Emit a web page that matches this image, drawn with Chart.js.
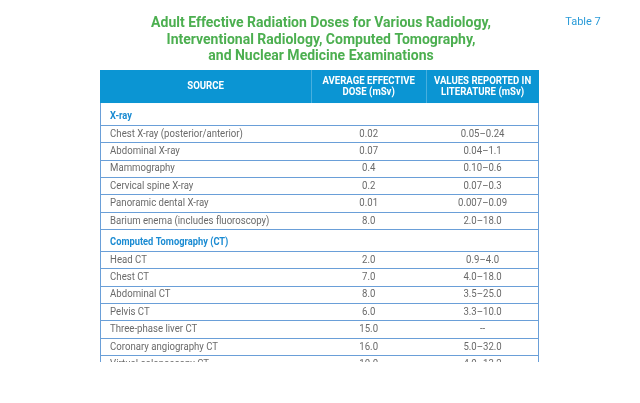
<!DOCTYPE html>
<html>
<head>
<meta charset="utf-8">
<script src="https://cdn.jsdelivr.net/npm/chart.js@4.4.0/dist/chart.umd.min.js"></script>
<style>
  html, body { margin: 0; padding: 0; background: #fff; }
  #wrap { width: 640px; height: 403px; position: relative; }
</style>
</head>
<body>
<div id="wrap"><canvas id="doseTable"></canvas></div>
<script>
// Table content
const titleLines = [
    'Adult Effective Radiation Doses for Various Radiology,',
    'Interventional Radiology, Computed Tomography,',
    'and Nuclear Medicine Examinations'
];
const tableTag = 'Table 7';
const columnHeaders = [
    ['SOURCE'],
    ['AVERAGE EFFECTIVE', 'DOSE (mSv)'],
    ['VALUES REPORTED IN', 'LITERATURE (mSv)']
];
const sections = ['X-ray', 'Computed Tomography (CT)'];

const xraySources = [
    'Chest X-ray (posterior/anterior)',
    'Abdominal X-ray',
    'Mammography',
    'Cervical spine X-ray',
    'Panoramic dental X-ray',
    'Barium enema (includes fluoroscopy)'
];
const xrayAverage = ['0.02', '0.07', '0.4', '0.2', '0.01', '8.0'];
const xrayLiterature = ['0.05\u20130.24', '0.04\u20131.1', '0.10\u20130.6', '0.07\u20130.3', '0.007\u20130.09', '2.0\u201318.0'];

const ctSources = [
    'Head CT',
    'Chest CT',
    'Abdominal CT',
    'Pelvis CT',
    'Three-phase liver CT',
    'Coronary angiography CT',
    'Virtual colonoscopy CT'
];
const ctAverage = ['2.0', '7.0', '8.0', '6.0', '15.0', '16.0', '10.0'];
const ctLiterature = ['0.9\u20134.0', '4.0\u201318.0', '3.5\u201325.0', '3.3\u201310.0', '--', '5.0\u201332.0', '4.0\u201313.2'];

// Layout (row heights in "row units", column edges in % of table width)
const HEADER_UNITS = 1.9;
const SECTION_UNITS = 1.25;
const ROW_UNITS = 1;
const VISIBLE_UNITS = 16.8;
const COL_EDGES = [0, 48.1, 74.3, 100];
const SOURCE_X = 2.3;

const HEADER_BG = '#0b95d3';
const LINE_COLOR = '#6a9fd8';
const SECTION_COLOR = '#1a8bd2';
const TEXT_COLOR = '#6a6a6a';
const TITLE_COLOR = '#4caf50';
const FONT = 'Roboto, "Liberation Sans", sans-serif';

// Build row list from the named arrays
const rows = [];
function addSection(name, sources, avg, lit) {
    rows.push({ type: 'section', label: name });
    sources.forEach((s, i) => rows.push({ type: 'data', label: s, avg: avg[i], lit: lit[i] }));
}
addSection(sections[0], xraySources, xrayAverage, xrayLiterature);
addSection(sections[1], ctSources, ctAverage, ctLiterature);

// Row boundaries on the y scale
const rowBounds = [HEADER_UNITS];
rows.forEach(r => {
    const prev = rowBounds[rowBounds.length - 1];
    rowBounds.push(prev + (r.type === 'section' ? SECTION_UNITS : ROW_UNITS));
});

const colMid = i => (COL_EDGES[i] + COL_EDGES[i + 1]) / 2;

// One dataset per text column; each cell is a point placed by the scales
const headerCells = columnHeaders.map((h, i) => ({ x: colMid(i), y: HEADER_UNITS / 2 }));
const sectionCells = [];
const sourceCells = [], avgCells = [], litCells = [];
const sectionText = [], sourceText = [], avgText = [], litText = [];
rows.forEach((r, i) => {
    const top = rowBounds[i], bottom = rowBounds[i + 1];
    if (r.type === 'section') {
        sectionCells.push({ x: SOURCE_X, y: bottom - 0.45 });
        sectionText.push(r.label);
    } else {
        const mid = (top + bottom) / 2 + 0.04;
        sourceCells.push({ x: SOURCE_X, y: mid });
        avgCells.push({ x: colMid(1), y: mid });
        litCells.push({ x: colMid(2), y: mid });
        sourceText.push(r.label);
        avgText.push(r.avg);
        litText.push(r.lit);
    }
});

function squeezedText(ctx, text, x, y, align, squeeze) {
    ctx.save();
    ctx.translate(x, y);
    ctx.scale(squeeze, 1);
    ctx.textAlign = align;
    ctx.fillText(text, 0, 0);
    ctx.restore();
}

const tablePlugin = {
    id: 'tableCells',
    beforeDatasetsDraw(chart) {
        const { ctx, chartArea: a, scales: { x, y } } = chart;
        ctx.save();
        // header band
        const hTop = y.getPixelForValue(0);
        const hBot = y.getPixelForValue(HEADER_UNITS);
        ctx.fillStyle = HEADER_BG;
        ctx.fillRect(a.left, hTop, a.right - a.left, hBot - hTop);
        // faint dividers inside header
        ctx.strokeStyle = 'rgba(255,255,255,0.25)';
        ctx.lineWidth = 1;
        [1, 2].forEach(i => {
            const px = Math.round(x.getPixelForValue(COL_EDGES[i])) + 0.5;
            ctx.beginPath();
            ctx.moveTo(px, hTop);
            ctx.lineTo(px, hBot);
            ctx.stroke();
        });
        // horizontal row rules
        ctx.strokeStyle = LINE_COLOR;
        rowBounds.forEach((b, i) => {
            if (i === 0 || b >= VISIBLE_UNITS) return;
            const py = Math.round(y.getPixelForValue(b)) + 0.5;
            ctx.beginPath();
            ctx.moveTo(a.left, py);
            ctx.lineTo(a.right, py);
            ctx.stroke();
        });
        // side borders
        [a.left + 0.5, a.right - 0.5].forEach(px => {
            ctx.beginPath();
            ctx.moveTo(px, hBot);
            ctx.lineTo(px, a.bottom);
            ctx.stroke();
        });
        ctx.restore();
    },
    afterDatasetsDraw(chart) {
        const { ctx, chartArea: a } = chart;
        ctx.save();
        ctx.textBaseline = 'middle';

        // title and tag above the table
        ctx.fillStyle = TITLE_COLOR;
        ctx.font = 'bold 14px ' + FONT;
        titleLines.forEach((t, i) => squeezedText(ctx, t, 321, 23.5 + i * 16.5, 'center', 1.0));
        ctx.fillStyle = '#2a9bd8';
        ctx.font = '11px ' + FONT;
        squeezedText(ctx, tableTag, 583, 22, 'center', 1.0);

        ctx.beginPath();
        ctx.rect(a.left, a.top, a.right - a.left, a.bottom - a.top);
        ctx.clip();

        // header labels
        ctx.fillStyle = '#ffffff';
        ctx.font = 'bold 10px ' + FONT;
        chart.getDatasetMeta(0).data.forEach((pt, i) => {
            const lines = columnHeaders[i];
            lines.forEach((l, j) => {
                const dy = (j - (lines.length - 1) / 2) * 11;
                squeezedText(ctx, l, pt.x, pt.y + dy, 'center', 0.96);
            });
        });

        // section labels
        ctx.fillStyle = SECTION_COLOR;
        ctx.font = 'bold 10px ' + FONT;
        chart.getDatasetMeta(1).data.forEach((pt, i) => squeezedText(ctx, sectionText[i], pt.x, pt.y, 'left', 0.93));

        // body cells
        ctx.fillStyle = TEXT_COLOR;
        ctx.font = '10px ' + FONT;
        chart.getDatasetMeta(2).data.forEach((pt, i) => squeezedText(ctx, sourceText[i], pt.x, pt.y, 'left', 0.96));
        chart.getDatasetMeta(3).data.forEach((pt, i) => squeezedText(ctx, avgText[i], pt.x, pt.y, 'center', 0.96));
        chart.getDatasetMeta(4).data.forEach((pt, i) => squeezedText(ctx, litText[i], pt.x, pt.y, 'center', 0.96));
        ctx.restore();
    }
};

const hidden = { pointRadius: 0, pointHoverRadius: 0, showLine: false };

new Chart(document.getElementById('doseTable').getContext('2d'), {
    type: 'scatter',
    data: {
        datasets: [
            { label: 'header', data: headerCells, ...hidden },
            { label: 'sections', data: sectionCells, ...hidden },
            { label: 'source', data: sourceCells, ...hidden },
            { label: 'average', data: avgCells, ...hidden },
            { label: 'literature', data: litCells, ...hidden }
        ]
    },
    options: {
        responsive: true,
        maintainAspectRatio: false,
        animation: false,
        events: [],
        layout: { padding: { left: 100, right: 101, top: 70, bottom: 41 } },
        scales: {
            x: { type: 'linear', min: 0, max: 100, display: false },
            y: { type: 'linear', min: 0, max: VISIBLE_UNITS, reverse: true, display: false }
        },
        plugins: {
            legend: { display: false },
            tooltip: { enabled: false }
        }
    },
    plugins: [tablePlugin]
});
</script>
</body>
</html>
